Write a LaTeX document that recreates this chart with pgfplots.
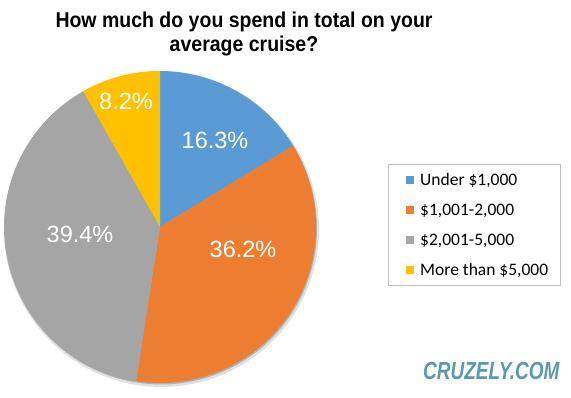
\documentclass[border=0pt]{standalone}
\usepackage{pgfplots}
\pgfplotsset{compat=1.18}
\usepackage{pgfplotstable}
\usepackage{fontspec}
\setmainfont{Liberation Sans}
\newfontfamily\legfont{Carlito}
\definecolor{cA}{HTML}{5B9BD5}
\definecolor{cB}{HTML}{ED7D31}
\definecolor{cC}{HTML}{A5A5A5}
\definecolor{cD}{HTML}{FFC000}
\definecolor{wm}{HTML}{5A98B6}

\pgfplotstableread{
pct
16.3
36.2
39.4
8.2
}\piedata

\pgfplotstablegetelem{0}{pct}\of\piedata \let\pA\pgfplotsretval
\pgfplotstablegetelem{1}{pct}\of\piedata \let\pB\pgfplotsretval
\pgfplotstablegetelem{2}{pct}\of\piedata \let\pC\pgfplotsretval
\pgfplotstablegetelem{3}{pct}\of\piedata \let\pD\pgfplotsretval
\pgfmathsetmacro\tot{\pA+\pB+\pC+\pD}
\pgfmathsetmacro\aA{90}
\pgfmathsetmacro\aB{\aA-360*\pA/\tot}
\pgfmathsetmacro\aC{\aB-360*\pB/\tot}
\pgfmathsetmacro\aD{\aC-360*\pC/\tot}
\pgfmathsetmacro\aE{\aD-360*\pD/\tot}
\def\cx{160}
\def\cy{171}
\def\R{156}

\begin{document}
\begin{tikzpicture}
\begin{axis}[
  width=571pt, height=398pt, scale only axis,
  xmin=0, xmax=571, ymin=0, ymax=398,
  hide axis, clip=false,
  legend style={at={(axis cs:406,225)}, anchor=north west, draw=none, fill=none,
    inner sep=0pt, row sep=14pt, font=\legfont\fontsize{17.5}{20}\selectfont,
    nodes={inner sep=0pt, text height=12pt, text depth=4pt, anchor=base west},
    /tikz/every odd column/.append style={column sep=6pt}},
  legend cell align=left,
  legend image code/.code={\fill[#1, draw=none] (0pt,1pt) rectangle (8pt,9pt);},
]
\path (axis cs:0,0) rectangle (axis cs:571,398);
% shadow
\addplot[forget plot, draw=none, fill=black!12, domain=0:360, samples=120, variable=\t]
  ({\cx+1.5+(\R+1.5)*cos(\t)},{\cy-2.5+(\R+1.5)*sin(\t)});
\addplot[forget plot, draw=none, fill=black!30, domain=0:360, samples=120, variable=\t]
  ({\cx+1+\R*cos(\t)},{\cy-1.5+\R*sin(\t)});
% slices
\addplot[draw=none, fill=cA, domain=\aB:\aA, samples=60, variable=\t]
  ({\cx+\R*cos(\t)},{\cy+\R*sin(\t)}) -- (axis cs:\cx,\cy) -- cycle;
\addlegendentry{Under \$1,000}
\addplot[draw=none, fill=cB, domain=\aC:\aB, samples=80, variable=\t]
  ({\cx+\R*cos(\t)},{\cy+\R*sin(\t)}) -- (axis cs:\cx,\cy) -- cycle;
\addlegendentry{\$1,001-2,000}
\addplot[draw=none, fill=cC, domain=\aD:\aC, samples=80, variable=\t]
  ({\cx+\R*cos(\t)},{\cy+\R*sin(\t)}) -- (axis cs:\cx,\cy) -- cycle;
\addlegendentry{\$2,001-5,000}
\addplot[draw=none, fill=cD, domain=\aE:\aD, samples=40, variable=\t]
  ({\cx+\R*cos(\t)},{\cy+\R*sin(\t)}) -- (axis cs:\cx,\cy) -- cycle;
\addlegendentry{More than \$5,000}
% labels
\begin{scope}[every node/.style={text=white, font=\fontsize{23.5}{26}\selectfont, inner sep=0pt}]
\node at (axis cs:215,258) {16.3\%};
\node at (axis cs:243,148.5) {36.2\%};
\node at (axis cs:80,164) {39.4\%};
\node at (axis cs:126,296.5) {8.2\%};
\end{scope}
% legend frame
\draw[black!25, line width=0.8pt] (axis cs:388,234) rectangle (axis cs:560,113);
% title
\node[anchor=base, font=\bfseries\fontsize{19.5}{24}\selectfont, inner sep=0pt, yscale=1.1] at (axis cs:244,370) {How much do you spend in total on your};
\node[anchor=base, font=\bfseries\fontsize{19.5}{24}\selectfont, inner sep=0pt, yscale=1.1] at (axis cs:244,346) {average cruise?};
% watermark
\node[anchor=base west, text=wm, font=\bfseries\itshape\fontsize{19}{22}\selectfont, inner sep=0pt, yscale=1.3] at (axis cs:423,18) {CRUZELY.COM};
\end{axis}
\end{tikzpicture}
\end{document}
